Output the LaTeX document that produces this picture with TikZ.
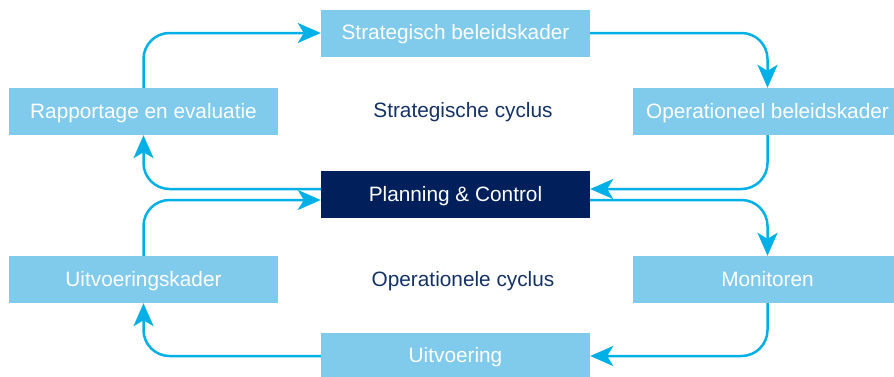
\documentclass[tikz,border=0pt]{standalone}
\usepackage{fontspec}
\setmainfont{Liberation Sans}
\usetikzlibrary{arrows.meta,calc}
\definecolor{boxblue}{RGB}{128,202,236}
\definecolor{navy}{RGB}{0,31,91}
\definecolor{arrowblue}{RGB}{0,176,230}
\definecolor{labelnavy}{RGB}{20,50,100}
\begin{document}
\begin{tikzpicture}[x=1pt,y=-1pt,
  stage/.style={rectangle, fill=boxblue, text=white, minimum width=269pt, minimum height=47pt, inner sep=0pt, text height=15pt, text depth=2pt, font=\fontsize{20.8}{24}\selectfont},
  pc/.style={stage, fill=navy},
  lbl/.style={text=labelnavy, font=\fontsize{20.8}{24}\selectfont},
  conn/.style={draw=arrowblue, line width=2.5pt, rounded corners=26pt, -{Stealth[length=23pt,width=20pt,inset=6pt]}}
]
\useasboundingbox (0,0) rectangle (894,376);
\node[stage] (strat) at (455.5,33) {Strategisch beleidskader};
\node[stage] (rapp) at (143.5,111.5) {Rapportage en evaluatie};
\node[stage] (oper) at (767.5,111.5) {Operationeel beleidskader};
\node[pc] (plan) at (455.5,194.5) {Planning \& Control};
\node[stage] (uitk) at (143.5,279.5) {Uitvoeringskader};
\node[stage] (mon) at (767.5,279.5) {Monitoren};
\node[stage] (uitv) at (455.5,356) {Uitvoering};
\node[lbl] (sc) at (463,112) {Strategische cyclus};
\node[lbl] (oc) at (463,281) {Operationele cyclus};
\coordinate (pe1) at ([yshift=5.5pt]plan.east);
\coordinate (pe2) at ([yshift=-5.5pt]plan.east);
\coordinate (pw1) at ([yshift=5.5pt]plan.west);
\coordinate (pw2) at ([yshift=-5.5pt]plan.west);
\draw[conn] (rapp.north) |- (strat.west);
\draw[conn] (strat.east) -| (oper.north);
\draw[conn] (oper.south) |- (pe1);
\draw[conn] (pw1) -| (rapp.south);
\draw[conn] (pe2) -| (mon.north);
\draw[conn] (mon.south) |- (uitv.east);
\draw[conn] (uitv.west) -| (uitk.south);
\draw[conn] (uitk.north) |- (pw2);
\end{tikzpicture}
\end{document}
